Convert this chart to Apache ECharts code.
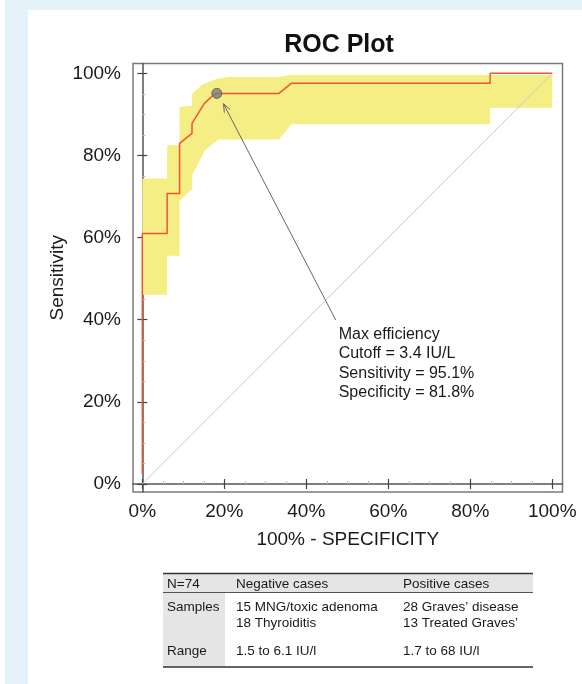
<!DOCTYPE html>
<html>
<head>
<meta charset="utf-8">
<script src="https://cdn.jsdelivr.net/npm/echarts@6/dist/echarts.min.js"></script>
<style>
  html, body { margin: 0; padding: 0; background: #ffffff; }
  #chart { width: 582px; height: 684px; }
</style>
</head>
<body>
<div id="chart"></div>
<script>
// ROC curve: x = 100% - specificity, y = sensitivity (percent)
const rocX = [0, 0, 6.06, 6.06, 9.09, 9.09, 12.12, 12.12, 15.15, 17.2, 18.18, 33.33, 36.36, 84.85, 84.85, 100];
const rocY = [2.44, 60.98, 60.98, 70.73, 70.73, 82.93, 85.37, 87.80, 92.68, 94.6, 95.12, 95.12, 97.56, 97.56, 100, 100];

// Confidence band: upper edge (left to right) and lower edge (left to right)
const bandUpperX = [0, 6.06, 6.06, 9.09, 9.09, 12.12, 12.12, 14.6, 18.2, 21.0, 33.33, 36.36, 100];
const bandUpperY = [74.4, 74.4, 82.5, 82.5, 91.8, 92.2, 95.0, 97.2, 98.7, 99.1, 99.1, 99.6, 99.6];
const bandLowerX = [0, 6.06, 6.06, 9.09, 9.09, 12.12, 12.12, 15.3, 18.5, 33.33, 36.36, 84.85, 84.85, 100];
const bandLowerY = [46.1, 46.1, 55.6, 55.6, 69.0, 71.8, 75.2, 81.3, 83.9, 83.9, 87.6, 87.6, 91.6, 91.6];

// Reference diagonal
const diagX = [0, 100];
const diagY = [0, 100];

// Max-efficiency operating point and its note
const cutoffPoint = [18.18, 95.12];
const arrowTip = [19.8, 92.6];
const arrowTail = [47.2, 39.9];
const noteAnchor = [47.9, 38.8];
const noteLines = ['Max efficiency', 'Cutoff = 3.4 IU/L', 'Sensitivity = 95.1%', 'Specificity = 81.8%'];

// Axis ticks
const tickValues = [0, 20, 40, 60, 80, 100];
const minorTickValues = [5, 10, 15, 25, 30, 35, 45, 50, 55, 65, 70, 75, 85, 90, 95];

// Summary table
const tableHeader = ['N=74', 'Negative cases', 'Positive cases'];
const tableSamples = ['Samples', '15 MNG/toxic adenoma\n18 Thyroiditis', '28 Graves\u2019 disease\n13 Treated Graves\u2019'];
const tableRange = ['Range', '1.5 to 6.1 IU/l', '1.7 to 68 IU/l'];

const FONT = 'Liberation Sans, Arial, Helvetica, sans-serif';
const TEXT = '#1a1a1a';

const rocData = rocX.map((x, i) => [x, rocY[i]]);
const diagData = diagX.map((x, i) => [x, diagY[i]]);
const bandPolygon = bandUpperX.map((x, i) => [x, bandUpperY[i]])
  .concat(bandLowerX.map((x, i) => [x, bandLowerY[i]]).reverse());

function xAxisBase(extra) {
  return Object.assign({
    type: 'value', min: -2.27, max: 102.5, position: 'bottom',
    splitLine: { show: false },
    axisLine: { show: false },
    axisLabel: { show: false },
    axisTick: { show: false }
  }, extra);
}
function yAxisBase(extra) {
  return Object.assign({
    type: 'value', min: -1.95, max: 102.4, position: 'left',
    splitLine: { show: false },
    axisLine: { show: false },
    axisLabel: { show: false },
    axisTick: { show: false }
  }, extra);
}

const chart = echarts.init(document.getElementById('chart'), null, { renderer: 'canvas' });

// Table graphics
const tX = 163, tW = 370;
const colX = [167, 236, 403];
const TFONT = '13.5px ' + FONT;
const tableGraphics = [
  { type: 'rect', shape: { x: tX, y: 573, width: tW, height: 19 }, style: { fill: '#e5e5e5' } },
  { type: 'rect', shape: { x: tX, y: 592, width: 62, height: 75 }, style: { fill: '#e5e5e5' } },
  { type: 'line', shape: { x1: tX, y1: 573.5, x2: tX + tW, y2: 573.5 }, style: { stroke: '#333', lineWidth: 1.5 } },
  { type: 'line', shape: { x1: tX, y1: 592.5, x2: tX + tW, y2: 592.5 }, style: { stroke: '#555', lineWidth: 1 } },
  { type: 'line', shape: { x1: tX, y1: 667, x2: tX + tW, y2: 667 }, style: { stroke: '#333', lineWidth: 1.5 } }
];
tableHeader.forEach((t, i) => tableGraphics.push({
  type: 'text', x: colX[i], y: 584,
  style: { text: t, font: TFONT, fill: TEXT, verticalAlign: 'middle' }
}));
tableSamples.forEach((t, i) => tableGraphics.push({
  type: 'text', x: colX[i], y: 599,
  style: { text: t, font: TFONT, fill: TEXT, lineHeight: 16, verticalAlign: 'top' }
}));
tableRange.forEach((t, i) => tableGraphics.push({
  type: 'text', x: colX[i], y: 651,
  style: { text: t, font: TFONT, fill: TEXT, verticalAlign: 'middle' }
}));

const option = {
  backgroundColor: '#ffffff',
  animation: false,
  graphic: [
    { type: 'rect', z: -10, shape: { x: 5, y: 0, width: 577, height: 10 }, style: { fill: '#e5f1f8' } },
    { type: 'rect', z: -10, shape: { x: 5, y: 0, width: 23, height: 684 }, style: { fill: '#e5f1f8' } },
    { type: 'text', x: 339, y: 45,
      style: { text: 'ROC Plot', font: 'bold 25px ' + FONT, fill: '#111', align: 'center', verticalAlign: 'middle' } }
  ].concat(tableGraphics),
  grid: {
    left: 133, right: 19.5, top: 63.5, bottom: 192,
    show: true, borderColor: '#7a7a7a', borderWidth: 1.5,
    outerBoundsMode: 'none'
  },
  xAxis: [
    xAxisBase({
      axisLine: { show: true, lineStyle: { color: '#555', width: 1.5 } },
      axisTick: { show: true, customValues: tickValues, length: 5, lineStyle: { color: '#444', width: 1.2 } },
      axisLabel: { show: true, customValues: tickValues, formatter: '{value}%', fontSize: 19, fontFamily: FONT, color: TEXT, margin: 10 },
      name: '100% - SPECIFICITY', nameLocation: 'middle', nameGap: 38, nameMoveOverlap: false,
      nameTextStyle: { fontSize: 19, fontFamily: FONT, color: TEXT }
    }),
    xAxisBase({
      axisTick: { show: true, inside: true, customValues: tickValues, length: 5, lineStyle: { color: '#444', width: 1.2 } }
    }),
    xAxisBase({
      axisTick: { show: true, inside: true, customValues: minorTickValues, length: 3, lineStyle: { color: '#bbb', width: 1 } }
    })
  ],
  yAxis: [
    yAxisBase({
      axisLine: { show: true, lineStyle: { color: '#555', width: 1.5 } },
      axisTick: { show: true, customValues: tickValues, length: 5, lineStyle: { color: '#444', width: 1.2 } },
      axisLabel: { show: true, customValues: tickValues, formatter: '{value}%', fontSize: 19, fontFamily: FONT, color: TEXT, margin: 12 },
      name: 'Sensitivity', nameLocation: 'middle', nameGap: 66, nameMoveOverlap: false,
      nameTextStyle: { fontSize: 19, fontFamily: FONT, color: TEXT }
    }),
    yAxisBase({
      axisTick: { show: true, inside: true, customValues: tickValues, length: 5, lineStyle: { color: '#444', width: 1.2 } }
    }),
    yAxisBase({
      axisTick: { show: true, inside: true, customValues: minorTickValues, length: 3, lineStyle: { color: '#bbb', width: 1 } }
    })
  ],
  series: [
    {
      name: 'band', type: 'custom', silent: true, z: 1,
      data: bandPolygon,
      renderItem: function (params, api) {
        if (params.dataIndex !== 0) return null;
        const pts = bandPolygon.map(p => api.coord(p));
        return { type: 'polygon', shape: { points: pts }, style: { fill: '#f5ee84' } };
      }
    },
    {
      name: 'diagonal', type: 'line', silent: true, z: 2,
      data: diagData, showSymbol: false, symbol: 'none',
      lineStyle: { color: '#c9c9c9', width: 1 }
    },
    {
      name: 'ROC', type: 'line', silent: true, z: 3,
      data: rocData, showSymbol: false, symbol: 'none',
      lineStyle: { color: '#ef5535', width: 1.5 }
    },
    {
      name: 'note', type: 'custom', silent: true, z: 4,
      data: [arrowTail],
      renderItem: function (params, api) {
        const tail = api.coord(arrowTail);
        const tip = api.coord(arrowTip);
        const ang = Math.atan2(tip[1] - tail[1], tip[0] - tail[0]);
        const L = 9, spread = 0.38;
        const h1 = [tip[0] - L * Math.cos(ang - spread), tip[1] - L * Math.sin(ang - spread)];
        const h2 = [tip[0] - L * Math.cos(ang + spread), tip[1] - L * Math.sin(ang + spread)];
        const txt = api.coord(noteAnchor);
        return {
          type: 'group',
          children: [
            { type: 'line', shape: { x1: tail[0], y1: tail[1], x2: tip[0], y2: tip[1] }, style: { stroke: '#666', lineWidth: 1 } },
            { type: 'polyline', shape: { points: [h1, tip, h2] }, style: { stroke: '#666', lineWidth: 1, fill: null } },
            { type: 'text', x: txt[0], y: txt[1],
              style: { text: noteLines.join('\n'), font: '16px ' + FONT, fill: TEXT, lineHeight: 19.5, verticalAlign: 'top' } }
          ]
        };
      }
    },
    {
      name: 'cutoff', type: 'scatter', silent: true, z: 5,
      data: [cutoffPoint], symbolSize: 10,
      itemStyle: { color: '#7b7b7b', borderColor: '#555', borderWidth: 1 }
    }
  ]
};

chart.setOption(option);
</script>
</body>
</html>
